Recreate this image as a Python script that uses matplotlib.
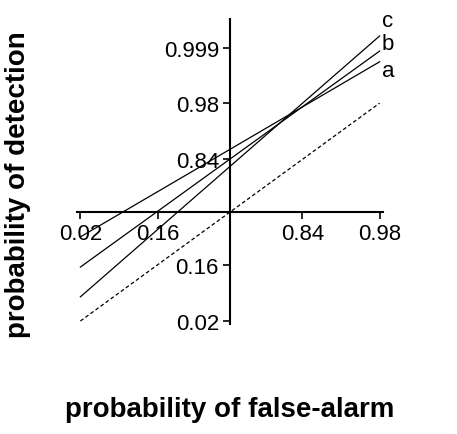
import matplotlib
matplotlib.use("Agg")
import matplotlib.pyplot as plt
from statistics import NormalDist

plt.rcParams["font.family"] = ["Liberation Sans", "DejaVu Sans"]
z = NormalDist().inv_cdf

x_ticks = [0.02, 0.16, 0.84, 0.98]
y_ticks = [0.02, 0.16, 0.84, 0.98, 0.999]
fa_ends = [0.02, 0.98]
# hit rates at the two ends of each line
lines = {
    "a": [0.32, 0.9977],
    "b": [0.15, 0.9988],
    "c": [0.055, 0.99955],
}
label_z = {"a": 2.66, "b": 3.17, "c": 3.62}

fig = plt.figure(figsize=(4.57, 4.35), dpi=100)
ax = fig.add_axes([77 / 457, 1 - 325 / 435, 306 / 457, 305 / 435])

xs = [z(p) for p in fa_ends]
ax.plot(xs, xs, color="black", lw=0.9, ls=(0, (3, 2)))
for name, ys in lines.items():
    zy = [z(p) for p in ys]
    ax.plot(xs, zy, color="black", lw=0.9)
    ax.text(xs[1] + 0.03, label_z[name], name, fontsize=16, ha="left", va="center",
            clip_on=False)

ax.set_xlim(-2.1, 2.1)
ax.set_ylim(-2.11, 3.64)
for s in ["top", "right"]:
    ax.spines[s].set_visible(False)
ax.spines["left"].set_position(("data", 0))
ax.spines["bottom"].set_position(("data", 0))
ax.spines["left"].set_linewidth(1.5)
ax.spines["bottom"].set_linewidth(1.5)
ax.set_xticks([z(p) for p in x_ticks])
ax.set_xticklabels([str(p) for p in x_ticks], fontsize=16)
ax.set_yticks([z(p) for p in y_ticks])
ax.set_yticklabels([str(p) for p in y_ticks], fontsize=16)
ax.tick_params(direction="out", length=5, width=1.2, pad=3)

fig.text(18 / 457, 1 - 185 / 435, "probability of detection", rotation=90, fontsize=20,
         fontweight="bold", ha="center", va="center")
fig.text(230 / 457, 1 - 410 / 435, "probability of false-alarm", fontsize=20,
         fontweight="bold", ha="center", va="center")

fig.savefig("out.png", dpi=100)
